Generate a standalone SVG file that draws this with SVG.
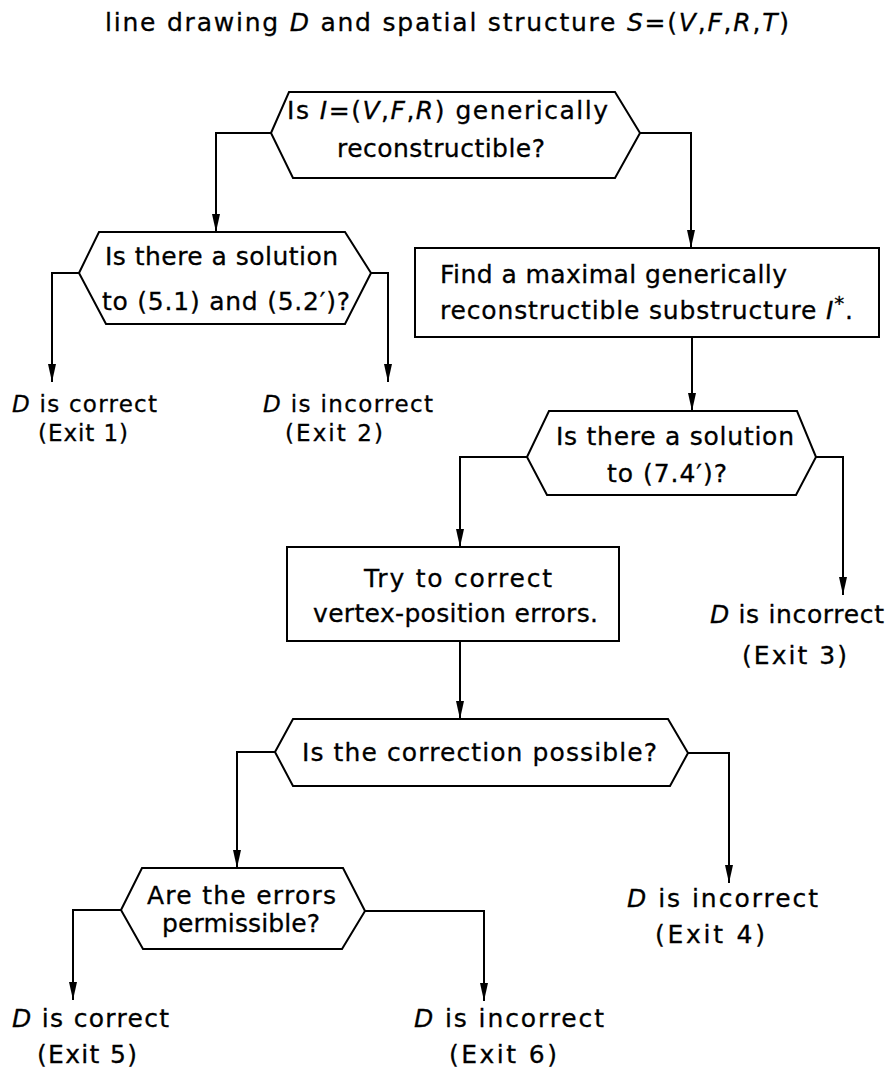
<svg xmlns="http://www.w3.org/2000/svg" width="889" height="1071" viewBox="0 0 889 1071">
<style>
text{font-family:"DejaVu Sans","Liberation Sans",sans-serif;font-size:25px;fill:#000;stroke:#000;stroke-width:0.3}
.it{font-style:italic}
.sm{font-size:23px}
.shape{fill:#fff;stroke:#000;stroke-width:2;stroke-linejoin:miter}
.conn{fill:none;stroke:#000;stroke-width:2}
</style>
<defs>
<marker id="ah" markerUnits="userSpaceOnUse" markerWidth="18" markerHeight="10" refX="18" refY="5" orient="auto">
<path d="M0,1 L18,5 L0,9 Z" fill="#000"/>
</marker>
</defs>
<rect width="889" height="1071" fill="#fff"/>
<g id="title">
<text x="105" y="31" textLength="684" lengthAdjust="spacing">line drawing <tspan class="it">D</tspan> and spatial structure <tspan class="it">S</tspan>=(<tspan class="it">V</tspan>,<tspan class="it">F</tspan>,<tspan class="it">R</tspan>,<tspan class="it">T</tspan>)</text>
</g>
<g id="connectors">
<polyline class="conn" points="271,133 216,133 216,232" marker-end="url(#ah)"/>
<polyline class="conn" points="640,133 691,133 691,248" marker-end="url(#ah)"/>
<polyline class="conn" points="79,273 52,273 52,382" marker-end="url(#ah)"/>
<polyline class="conn" points="371,273 388,273 388,382" marker-end="url(#ah)"/>
<polyline class="conn" points="692,337 692,411" marker-end="url(#ah)"/>
<polyline class="conn" points="527,457 460,457 460,547" marker-end="url(#ah)"/>
<polyline class="conn" points="816,457 843,457 843,595" marker-end="url(#ah)"/>
<polyline class="conn" points="460,641 460,719" marker-end="url(#ah)"/>
<polyline class="conn" points="275,752 237,752 237,868" marker-end="url(#ah)"/>
<polyline class="conn" points="688,753 729,753 729,883" marker-end="url(#ah)"/>
<polyline class="conn" points="121,910 73,910 73,1000" marker-end="url(#ah)"/>
<polyline class="conn" points="365,911 484,911 484,1001" marker-end="url(#ah)"/>
</g>
<g id="q1">
<polygon class="shape" points="271,133 289,92 615,92 640,133 615,178 293,178"/>
<text x="287" y="119" textLength="321" lengthAdjust="spacing">Is <tspan class="it">I</tspan>=(<tspan class="it">V</tspan>,<tspan class="it">F</tspan>,<tspan class="it">R</tspan>) generically</text>
<text x="337" y="157" textLength="208" lengthAdjust="spacing">reconstructible?</text>
</g>
<g id="q2">
<polygon class="shape" points="79,273 99,232 345,232 371,273 345,324 106,324"/>
<text x="105" y="265" textLength="233" lengthAdjust="spacing">Is there a solution</text>
<text x="102" y="310" textLength="248" lengthAdjust="spacing">to (5.1) and (5.2′)?</text>
</g>
<g id="exit1">
<text class="sm" x="12" y="412" textLength="145" lengthAdjust="spacing"><tspan class="it">D</tspan> is correct</text>
<text class="sm" x="38" y="441" textLength="90" lengthAdjust="spacing">(Exit 1)</text>
</g>
<g id="exit2">
<text class="sm" x="263" y="412" textLength="170" lengthAdjust="spacing"><tspan class="it">D</tspan> is incorrect</text>
<text class="sm" x="285" y="441" textLength="98" lengthAdjust="spacing">(Exit 2)</text>
</g>
<g id="box1">
<rect class="shape" x="415" y="248" width="464" height="89"/>
<text x="440" y="283" textLength="347" lengthAdjust="spacing">Find a maximal generically</text>
<text x="440" y="319" textLength="413" lengthAdjust="spacing">reconstructible substructure <tspan class="it">I</tspan><tspan dy="-9" font-size="20">*</tspan><tspan dy="9">.</tspan></text>
</g>
<g id="q3">
<polygon class="shape" points="527,457 549,411 797,411 816,457 796,495 547,495"/>
<text x="556" y="445" textLength="238" lengthAdjust="spacing">Is there a solution</text>
<text x="607" y="482" textLength="120" lengthAdjust="spacing">to (7.4′)?</text>
</g>
<g id="box2">
<rect class="shape" x="287" y="547" width="332" height="94"/>
<text x="364" y="587" textLength="188" lengthAdjust="spacing">Try to correct</text>
<text x="313" y="622" textLength="285" lengthAdjust="spacing">vertex-position errors.</text>
</g>
<g id="exit3">
<text x="710" y="623" textLength="174" lengthAdjust="spacing"><tspan class="it">D</tspan> is incorrect</text>
<text x="742" y="664" textLength="105" lengthAdjust="spacing">(Exit 3)</text>
</g>
<g id="q4">
<polygon class="shape" points="275,752 293,719 668,719 688,753 670,786 293,786"/>
<text x="302" y="761" textLength="355" lengthAdjust="spacing">Is the correction possible?</text>
</g>
<g id="exit4">
<text x="627" y="907" textLength="191" lengthAdjust="spacing"><tspan class="it">D</tspan> is incorrect</text>
<text x="655" y="943" textLength="110" lengthAdjust="spacing">(Exit 4)</text>
</g>
<g id="q5">
<polygon class="shape" points="121,910 142,868 343,868 365,911 342,949 143,949"/>
<text x="147" y="904" textLength="189" lengthAdjust="spacing">Are the errors</text>
<text x="162" y="932" textLength="158" lengthAdjust="spacing">permissible?</text>
</g>
<g id="exit5">
<text x="12" y="1027" textLength="157" lengthAdjust="spacing"><tspan class="it">D</tspan> is correct</text>
<text x="37" y="1063" textLength="100" lengthAdjust="spacing">(Exit 5)</text>
</g>
<g id="exit6">
<text x="414" y="1027" textLength="190" lengthAdjust="spacing"><tspan class="it">D</tspan> is incorrect</text>
<text x="449" y="1063" textLength="108" lengthAdjust="spacing">(Exit 6)</text>
</g>
</svg>
